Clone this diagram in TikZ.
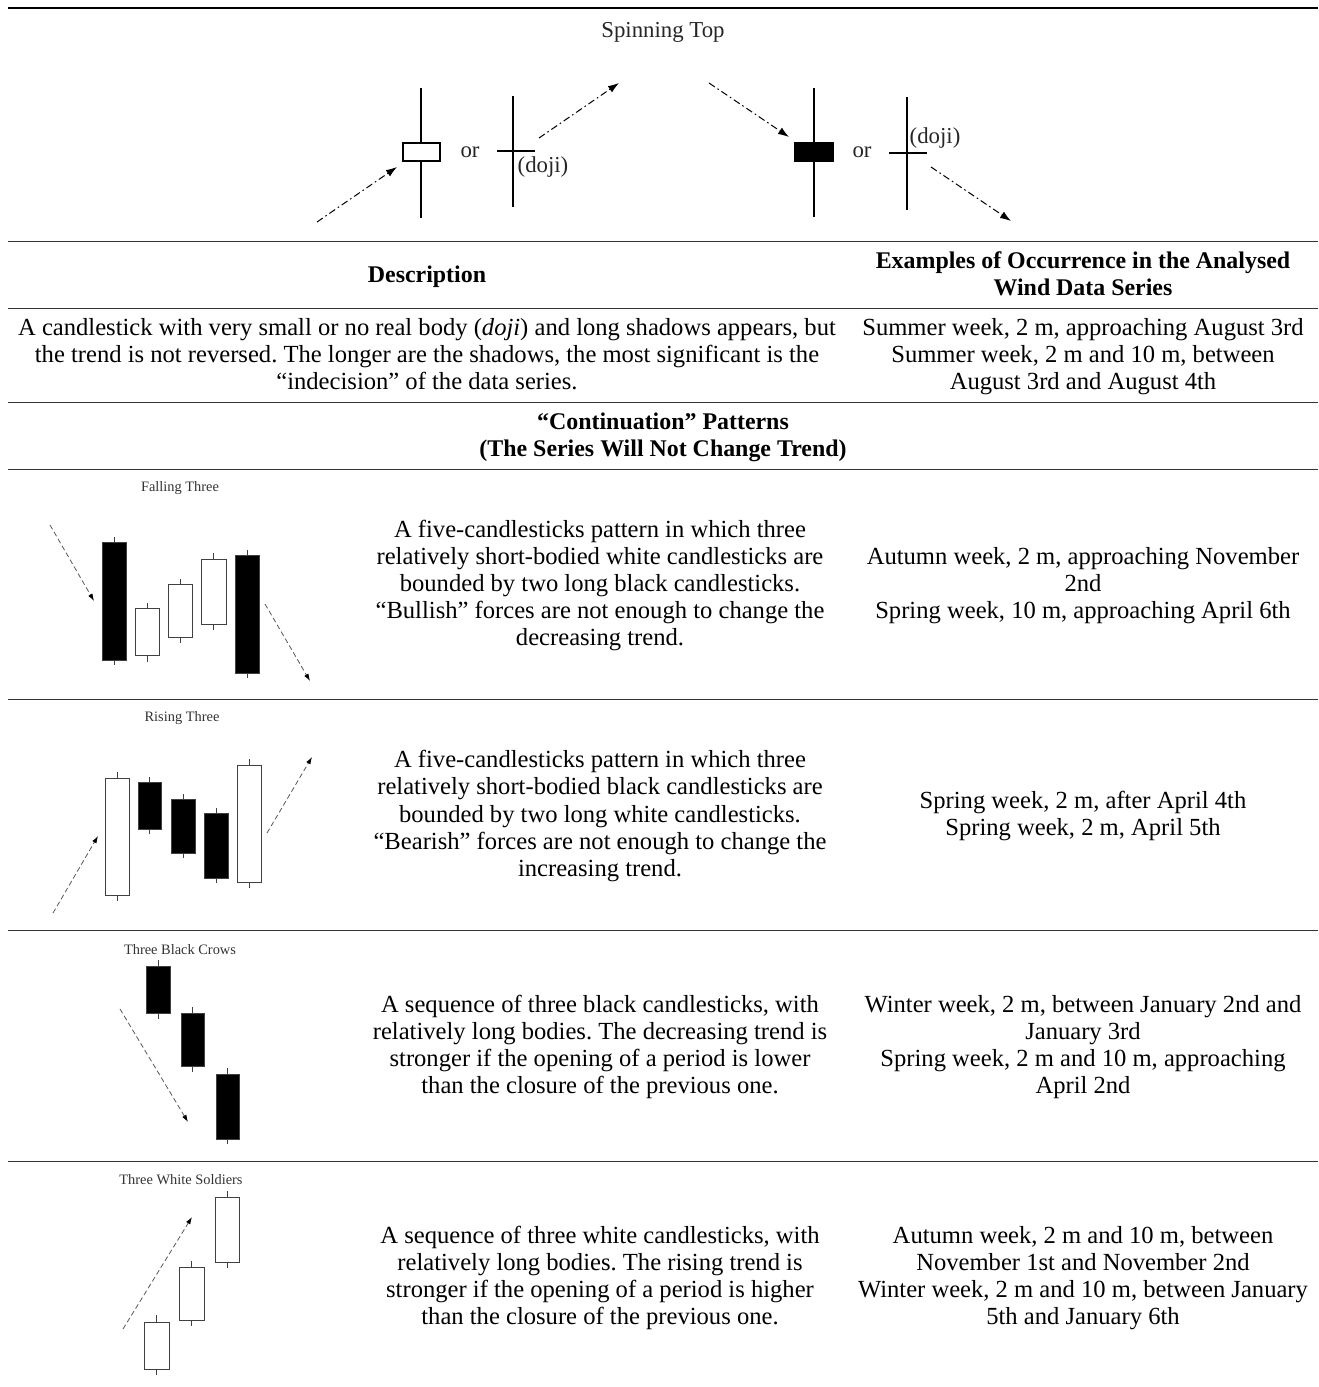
\documentclass[tikz,border=0pt]{standalone}
\usepackage{fontspec}
\setmainfont{Liberation Serif}
\usetikzlibrary{arrows.meta}

\newcommand{\tabfont}{\fontsize{12.3}{13.6}\selectfont\frenchspacing}
\newcommand{\headfont}{\fontsize{11.95}{13.6}\selectfont\bfseries}
% candle: fill, left, right, wick top, body top, body bottom, wick bottom
\newcommand{\candle}[7]{%
  \draw[wick] ({(#2+#3)/2},#4) -- ({(#2+#3)/2},#7);
  \draw[body, fill=#1] (#2,#5) rectangle (#3,#6);}

\begin{document}
\begin{tikzpicture}[x = 0.5pt, y = -0.5pt,
		cell/.style = {align = center, inner sep = 0pt, font = \tabfont, execute at begin node = \strut, execute at end node = \strut},
		head/.style = {cell, font = \headfont},
		figlabel/.style = {inner sep = 0pt, font = \fontsize{11.4}{13}\selectfont, text = black!85},
		panel/.style = {inner sep = 0pt, font = \fontsize{7.2}{8}\selectfont, text = black!80},
		rule/.style = {line width = 0.5pt, black!80},
		stline/.style = {line width = 0.6pt},
		wick/.style = {line width = 0.45pt, black!75},
		body/.style = {line width = 0.5pt, draw = black!75},
		updown/.style = {line width = 0.5pt, dash pattern = on 3.5pt off 1.6pt on 0.8pt off 1.6pt, -{Latex[length = 5.5pt, width = 3.8pt]}},
		trend/.style = {line width = 0.4pt, black!65, dash pattern = on 2.5pt off 1.5pt, -{Latex[length = 3.6pt, width = 2.4pt, color = black]}}]
		\path[use as bounding box, fill = white] (0, 0) rectangle (1318, 1387);

		% rules of the table
		\draw[line width = 1pt] (8, 8) -- (1318, 8);
		\foreach \y in {241, 308, 402, 469, 699, 930, 1161}
			\draw[rule] (8, \y) -- (1318, \y);

		% spinning top
		\node[figlabel] (st) at (663, 32) {Spinning Top};
		\draw[stline] (421, 88) -- (421, 218);
		\draw[stline, fill = white] (403, 143) rectangle (440, 161);
		\node[figlabel] (or1) at (470, 152) {or};
		\draw[stline] (513, 96) -- (513, 207);
		\draw[stline] (497, 151) -- (535, 151);
		\node[figlabel] (doji1) at (543, 167) {(doji)};
		\draw[stline] (814, 88) -- (814, 217);
		\draw[stline, fill = black] (795, 143) rectangle (833, 161);
		\node[figlabel] (or2) at (862, 152) {or};
		\draw[stline] (907, 97) -- (907, 210);
		\draw[stline] (889, 153) -- (927, 153);
		\node[figlabel] (doji2) at (935, 138.5) {(doji)};
		\coordinate (up1) at (317, 222);
		\coordinate (up2) at (397, 167);
		\coordinate (up3) at (539, 138);
		\coordinate (up4) at (619, 83);
		\coordinate (dn1) at (709, 83);
		\coordinate (dn2) at (789, 137);
		\coordinate (dn3) at (931, 167);
		\coordinate (dn4) at (1011, 221);
		\draw[updown] (up1) -- (up2);
		\draw[updown] (up3) -- (up4);
		\draw[updown] (dn1) -- (dn2);
		\draw[updown] (dn3) -- (dn4);

		% header and first row
		\node[head] (desch) at (427, 277.5) {Description};
		\node[head] (exh) at (1083, 277.5) {Examples of Occurrence in the Analysed\\ Wind Data Series};
		\node[cell] (desc) at (427, 358) {A candlestick with very small or no real body (\textit{doji}) and long shadows appears, but\\ the trend is not reversed. The longer are the shadows, the most significant is the\\ “indecision” of the data series.};
		\node[cell] (ex) at (1083, 358) {Summer week, 2 m, approaching August 3rd\\ Summer week, 2 m and 10 m, between\\ August 3rd and August 4th};
		\node[head] (cont) at (663, 439) {“Continuation” Patterns\\ (The Series Will Not Change Trend)};

		% falling three
		\node[panel] (ft) at (180, 488) {Falling Three};
		\candle{black}{102}{126}{537}{542}{660}{665}
		\candle{white}{135}{159}{603}{608}{655}{662}
		\candle{white}{168}{192}{579}{584}{637}{643}
		\candle{white}{201}{226}{553}{559}{624}{630}
		\candle{black}{235}{259}{550}{555}{673}{678}
		\coordinate (ft1) at (50, 525);
		\coordinate (ft2) at (94, 601);
		\coordinate (ft3) at (265, 604);
		\coordinate (ft4) at (310, 681);
		\draw[trend] (ft1) -- (ft2);
		\draw[trend] (ft3) -- (ft4);
		\node[cell] (ftd) at (600, 587) {A five-candlesticks pattern in which three\\ relatively short-bodied white candlesticks are\\ bounded by two long black candlesticks.\\ “Bullish” forces are not enough to change the\\ decreasing trend.};
		\node[cell] (fte) at (1083, 587) {Autumn week, 2 m, approaching November\\ 2nd\\ Spring week, 10 m, approaching April 6th};

		% rising three
		\node[panel] (rt) at (182, 718) {Rising Three};
		\candle{white}{105}{129}{772}{778}{895}{901}
		\candle{black}{138}{161}{777}{782}{829}{834}
		\candle{black}{171}{195}{794}{799}{853}{858}
		\candle{black}{204}{228}{808}{813}{878}{883}
		\candle{white}{237}{261}{759}{765}{882}{888}
		\coordinate (rt1) at (53, 913);
		\coordinate (rt2) at (98, 836);
		\coordinate (rt3) at (267, 833);
		\coordinate (rt4) at (312, 757);
		\draw[trend] (rt1) -- (rt2);
		\draw[trend] (rt3) -- (rt4);
		\node[cell] (rtd) at (600, 817.5) {A five-candlesticks pattern in which three\\ relatively short-bodied black candlesticks are\\ bounded by two long white candlesticks.\\ “Bearish” forces are not enough to change the\\ increasing trend.};
		\node[cell] (rte) at (1083, 817.5) {Spring week, 2 m, after April 4th\\ Spring week, 2 m, April 5th};

		% three black crows
		\node[panel] (tbc) at (180, 949.5) {Three Black Crows};
		\candle{black}{146}{170}{960}{966}{1013}{1019}
		\candle{black}{181}{204}{1007}{1013}{1066}{1072}
		\candle{black}{216}{239}{1068}{1074}{1139}{1144}
		\coordinate (tbc1) at (120, 1009);
		\coordinate (tbc2) at (188, 1122);
		\draw[trend] (tbc1) -- (tbc2);
		\node[cell] (tbcd) at (600, 1048.5) {A sequence of three black candlesticks, with\\ relatively long bodies. The decreasing trend is\\ stronger if the opening of a period is lower\\ than the closure of the previous one.};
		\node[cell] (tbce) at (1083, 1048.5) {Winter week, 2 m, between January 2nd and\\ January 3rd\\ Spring week, 2 m and 10 m, approaching\\ April 2nd};

		% three white soldiers
		\node[panel] (tws) at (181, 1179.5) {Three White Soldiers};
		\candle{white}{144}{169}{1315}{1322}{1369}{1375}
		\candle{white}{179}{204}{1261}{1267}{1320}{1326}
		\candle{white}{215}{239}{1191}{1197}{1262}{1268}
		\coordinate (tws1) at (123, 1329);
		\coordinate (tws2) at (192, 1217);
		\draw[trend] (tws1) -- (tws2);
		\node[cell] (twsd) at (600, 1279.5) {A sequence of three white candlesticks, with\\ relatively long bodies. The rising trend is\\ stronger if the opening of a period is higher\\ than the closure of the previous one.};
		\node[cell] (twse) at (1083, 1279.5) {Autumn week, 2 m and 10 m, between\\ November 1st and November 2nd\\ Winter week, 2 m and 10 m, between January\\ 5th and January 6th};
	\end{tikzpicture}
\end{document}
